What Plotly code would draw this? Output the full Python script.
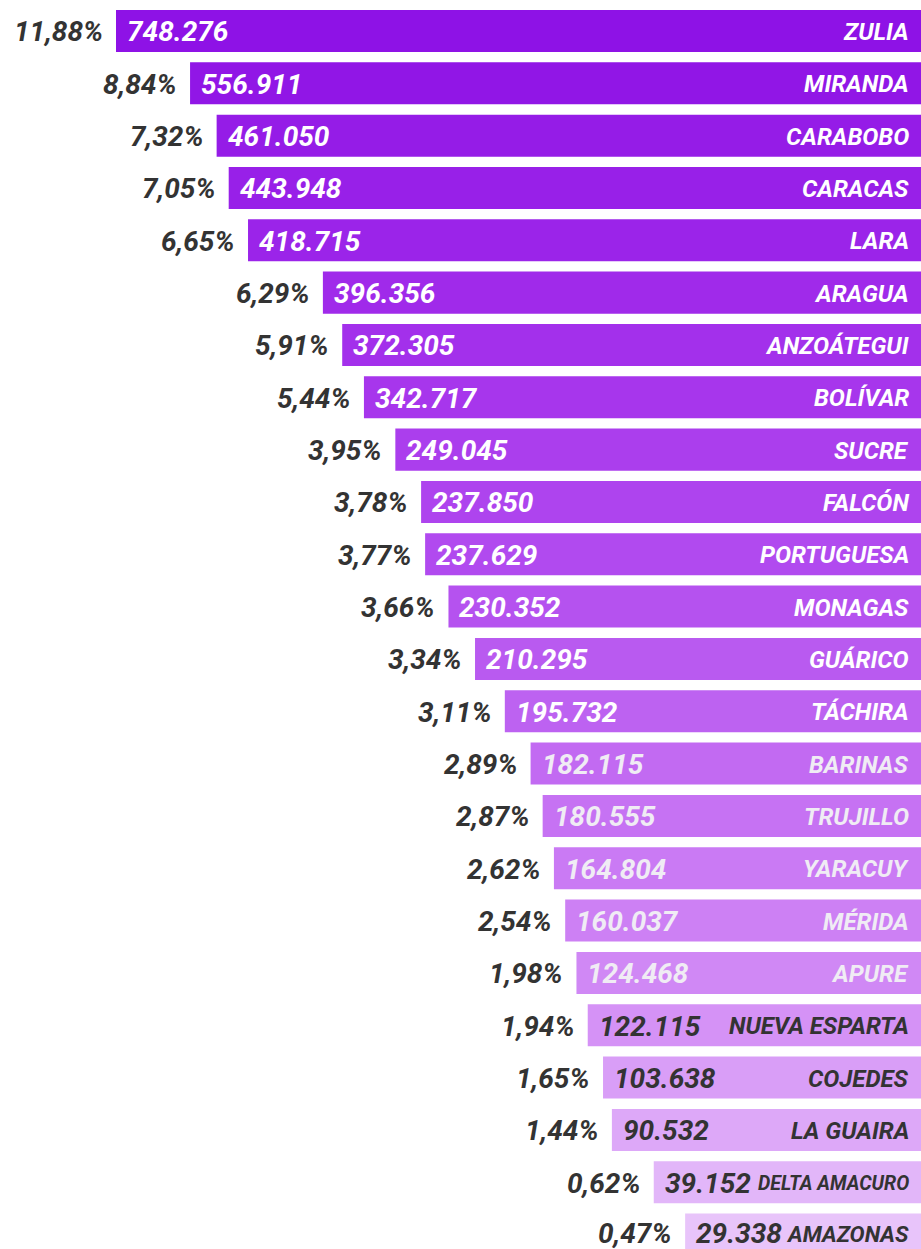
import plotly.graph_objects as go

# ---- data ----
states = ["ZULIA", "MIRANDA", "CARABOBO", "CARACAS", "LARA", "ARAGUA", "ANZOÁTEGUI",
          "BOLÍVAR", "SUCRE", "FALCÓN", "PORTUGUESA", "MONAGAS", "GUÁRICO", "TÁCHIRA",
          "BARINAS", "TRUJILLO", "YARACUY", "MÉRIDA", "APURE", "NUEVA ESPARTA",
          "COJEDES", "LA GUAIRA", "DELTA AMACURO", "AMAZONAS"]
population = [748276, 556911, 461050, 443948, 418715, 396356, 372305, 342717, 249045,
              237850, 237629, 230352, 210295, 195732, 182115, 180555, 164804, 160037,
              124468, 122115, 103638, 90532, 39152, 29338]
share_pct = [11.88, 8.84, 7.32, 7.05, 6.65, 6.29, 5.91, 5.44, 3.95, 3.78, 3.77, 3.66,
             3.34, 3.11, 2.89, 2.87, 2.62, 2.54, 1.98, 1.94, 1.65, 1.44, 0.62, 0.47]
# displayed bar length as drawn in the infographic (relative, ZULIA = 100)
bar_length = [100.0, 90.8, 87.5, 86.0, 83.6, 74.3, 71.9, 69.2, 65.3, 62.1, 61.6, 58.7,
              55.4, 51.7, 48.5, 47.0, 45.6, 44.2, 42.8, 41.4, 39.5, 38.4, 33.2, 29.3]

# ---- styles ----
bar_rgb = [(142, 18, 230), (145, 22, 230), (149, 28, 231), (152, 32, 232), (155, 36, 233),
           (160, 42, 234), (163, 48, 235), (167, 54, 236), (171, 62, 237), (174, 68, 238),
           (177, 74, 239), (181, 82, 239), (185, 90, 240), (189, 98, 241), (194, 106, 242),
           (198, 114, 243), (202, 122, 244), (205, 128, 244), (208, 136, 245), (213, 146, 246),
           (217, 158, 247), (221, 168, 248), (226, 182, 249), (232, 196, 250)]
bar_colors = ["rgb(%d,%d,%d)" % c for c in bar_rgb]
inner_text_colors = (["#ffffff"] * 14) + (["#f0ecf4"] * 5) + (["#333333"] * 5)
name_sizes = [24] * len(states)
name_sizes[states.index("DELTA AMACURO")] = 19.5
name_sizes[states.index("AMAZONAS")] = 22.5

FONT = "Roboto"
DARK = "#333333"


def fmt_int(n):
    return f"{n:,}".replace(",", ".")


def fmt_pct(p):
    return f"{p:.2f}".replace(".", ",") + "%"


fig = go.Figure(
    go.Bar(
        x=bar_length,
        y=states,
        orientation="h",
        marker=dict(color=bar_colors, line=dict(width=0)),
        hoverinfo="skip",
    )
)

annotations = []
for i, st in enumerate(states):
    ys = -1 if i < len(states) - 1 else 1
    annotations.append(dict(
        x=bar_length[i], y=st, xref="x", yref="y", text=fmt_pct(share_pct[i]),
        xanchor="right", yanchor="middle", xshift=-11, yshift=ys, showarrow=False,
        font=dict(family=FONT, size=28, color=DARK, weight=700, style="italic"),
    ))
    annotations.append(dict(
        x=bar_length[i], y=st, xref="x", yref="y", text=fmt_int(population[i]),
        xanchor="left", yanchor="middle", xshift=9, yshift=ys, showarrow=False,
        font=dict(family=FONT, size=28, color=inner_text_colors[i], weight=700, style="italic"),
    ))
    annotations.append(dict(
        x=0, y=st, xref="x", yref="y", text=st,
        xanchor="right", yanchor="middle", xshift=-10, yshift=ys, showarrow=False,
        font=dict(family=FONT, size=name_sizes[i], color=inner_text_colors[i], weight=700,
                  style="italic"),
    ))

fig.update_layout(
    width=921, height=1249,
    margin=dict(l=0, r=0, t=0, b=0, pad=0),
    paper_bgcolor="white", plot_bgcolor="white",
    bargap=0.197,
    showlegend=False,
    annotations=annotations,
    xaxis=dict(range=[114.41, 0], visible=False, fixedrange=True),
    yaxis=dict(range=[23.276, -0.592], visible=False, fixedrange=True,
               categoryorder="array", categoryarray=states),
)

fig.write_html(
    "out.html",
    config={"displayModeBar": False},
    post_script="document.body.style.margin='0';document.documentElement.style.overflow='hidden';",
)
